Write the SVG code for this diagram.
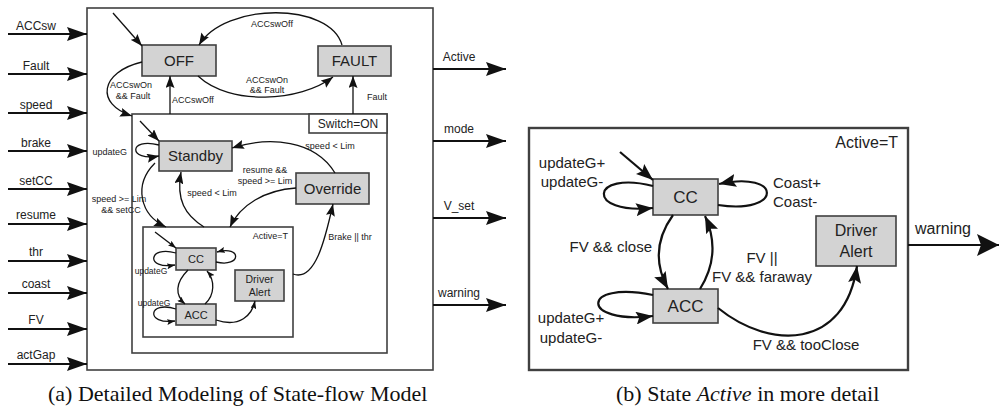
<svg xmlns="http://www.w3.org/2000/svg" width="1000" height="419" viewBox="0 0 1000 419">
<style>
.t{font-family:"Liberation Sans",Arial,sans-serif;fill:#222}
.c{text-anchor:middle}
.e{text-anchor:end}
.box{fill:#d3d3d3;stroke:#404040;stroke-width:1.6}
.frame{fill:#fff;stroke:#404040;stroke-width:1.6}
.ed{fill:none;stroke:#111;stroke-width:1.3}
.edR{fill:none;stroke:#111;stroke-width:2.2}
.io{fill:none;stroke:#111;stroke-width:1.8}
.cap{font-family:"Liberation Serif","Times New Roman",serif;font-size:22px;fill:#111}
</style>
<defs>
<marker id="aIO" viewBox="0 0 20 14" refX="20" refY="7" markerWidth="20" markerHeight="14" markerUnits="userSpaceOnUse" orient="auto"><path d="M0,0 L20,7 L0,14 L3,7 z" fill="#111"/></marker>
<marker id="aM" viewBox="0 0 12 9" refX="12" refY="4.5" markerWidth="12" markerHeight="9" markerUnits="userSpaceOnUse" orient="auto"><path d="M0,0 L12,4.5 L0,9 L2,4.5 z" fill="#111"/></marker>
<marker id="aS" viewBox="0 0 8 6" refX="8" refY="3" markerWidth="8" markerHeight="6" markerUnits="userSpaceOnUse" orient="auto"><path d="M0,0 L8,3 L0,6 L1.5,3 z" fill="#111"/></marker>
<marker id="aR" viewBox="0 0 17 13" refX="17" refY="6.5" markerWidth="17" markerHeight="13" markerUnits="userSpaceOnUse" orient="auto"><path d="M0,0 L17,6.5 L0,13 L3,6.5 z" fill="#111"/></marker>
<marker id="aW" viewBox="0 0 22 22" refX="22" refY="11" markerWidth="22" markerHeight="22" markerUnits="userSpaceOnUse" orient="auto"><path d="M0,0 L22,11 L0,22 L4,11 z" fill="#111"/></marker>
</defs>

<!-- ===== (a) left diagram ===== -->
<g id="chart">
<rect x="87" y="8" width="346" height="362" class="frame"/>
</g>
<g id="switchOn">
<rect x="132" y="114" width="255" height="239" class="frame"/>
<rect x="309" y="114" width="78" height="19" fill="#fff" stroke="#404040" stroke-width="1.6"/>
<text x="348" y="128" class="t c" font-size="12">Switch=ON</text>
</g>
<g id="activeSmall">
<rect x="143" y="227" width="150" height="110" class="frame"/>
<text x="288" y="239" class="t e" font-size="9">Active=T</text>
</g>
<g id="off"><rect x="142" y="45" width="74" height="31" class="box"/><text x="179" y="66" class="t c" font-size="15">OFF</text></g>
<g id="fault"><rect x="318" y="46" width="73" height="30" class="box"/><text x="354.5" y="66" class="t c" font-size="15">FAULT</text></g>
<g id="standby"><rect x="159" y="141" width="73" height="30" class="box"/><text x="195.5" y="161" class="t c" font-size="15">Standby</text></g>
<g id="override"><rect x="296" y="173" width="73" height="31" class="box"/><text x="332.5" y="194" class="t c" font-size="15">Override</text></g>
<g id="ccSmall"><rect x="176" y="248" width="40" height="22" class="box"/><text x="196" y="263" class="t c" font-size="11">CC</text></g>
<g id="accSmall"><rect x="176" y="304" width="40" height="21" class="box"/><text x="196" y="318.5" class="t c" font-size="11">ACC</text></g>
<g id="alertSmall"><rect x="235" y="270" width="49" height="31" class="box"/><text x="259.5" y="283" class="t c" font-size="10.5">Driver</text><text x="259.5" y="296" class="t c" font-size="10.5">Alert</text></g>

<!-- ===== (b) right diagram ===== -->
<g id="activeBig">
<rect x="529" y="128" width="379" height="242" fill="#fff" stroke="#404040" stroke-width="2.4"/>
<text x="898" y="148" class="t e" font-size="16">Active=T</text>
</g>
<g id="cc"><rect x="653" y="179" width="65" height="36" class="box"/><text x="685.5" y="203" class="t c" font-size="17">CC</text></g>
<g id="acc"><rect x="653" y="289" width="65" height="34" class="box"/><text x="685.5" y="312" class="t c" font-size="17">ACC</text></g>
<g id="alert"><rect x="816" y="216" width="80" height="50" class="box"/><text x="856" y="236" class="t c" font-size="16">Driver</text><text x="856" y="257" class="t c" font-size="16">Alert</text></g>

<g id="connectors">
<!-- inputs -->
<g class="io" marker-end="url(#aIO)">
<path d="M8,34 H87"/><path d="M8,74 H87"/><path d="M8,113 H87"/><path d="M8,151 H87"/><path d="M8,189 H87"/>
<path d="M8,224 H87"/><path d="M8,261 H87"/><path d="M8,293 H87"/><path d="M8,329 H87"/><path d="M8,364 H87"/>
</g>
<g class="t c" font-size="12">
<text x="36" y="30">ACCsw</text><text x="36" y="70">Fault</text><text x="36" y="109">speed</text><text x="36" y="147">brake</text><text x="36" y="185">setCC</text>
<text x="36" y="219">resume</text><text x="36" y="256">thr</text><text x="36" y="288">coast</text><text x="36" y="324">FV</text><text x="36" y="359">actGap</text>
</g>
<!-- outputs -->
<g class="io" marker-end="url(#aIO)">
<path d="M433,69 H506"/><path d="M433,141 H506"/><path d="M433,218 H506"/><path d="M433,305 H506"/>
</g>
<g class="t c" font-size="12">
<text x="459" y="61">Active</text><text x="459" y="133">mode</text><text x="459" y="210">V_set</text><text x="459" y="297">warning</text>
</g>

<!-- top level transitions -->
<g class="ed" marker-end="url(#aM)">
<path d="M113,13 L142,46"/>
<path d="M342,45 C330,2 225,2 199,45"/>
<path d="M198,76 C230,106 300,102 333,77"/>
<path d="M142,62 C100,72 95,104 132,116"/>
<path d="M170,114 L170,76"/>
<path d="M353,114 L353,76"/>
<path d="M140,121 L159,141"/>
<path d="M159,145 C128,137 128,162 159,156"/>
<path d="M155,163 C133,185 140,215 166,227"/>
<path d="M204,227 C185,215 176,200 181,172"/>
<path d="M296,188 C265,190 240,205 230,227"/>
<path d="M335,173 C315,140 270,136 232,148"/>
<path d="M293,274 C315,282 325,240 333,204"/>
</g>
<g class="t" font-size="9">
<text x="272" y="27" class="c">ACCswOff</text>
<text x="267" y="83" class="c">ACCswOn</text>
<text x="267" y="93" class="c">&amp;&amp; Fault</text>
<text x="131" y="88" class="c">ACCswOn</text>
<text x="133" y="99" class="c">&amp;&amp; Fault</text>
<text x="172" y="103">ACCswOff</text>
<text x="377" y="100" class="c">Fault</text>
<text x="127" y="155" class="e">updateG</text>
<text x="119" y="202" class="c">speed &gt;= Lim</text>
<text x="121" y="213" class="c">&amp;&amp; setCC</text>
<text x="212" y="196" class="c">speed &lt; Lim</text>
<text x="265" y="173" class="c">resume  &amp;&amp;</text>
<text x="265" y="184" class="c">speed &gt;= Lim</text>
<text x="330" y="149" class="c">speed &lt; Lim</text>
<text x="350" y="240" class="c">Brake || thr</text>
</g>
<!-- inner active transitions -->
<g class="ed" stroke-width="1.1" marker-end="url(#aS)">
<path d="M155,232 L176,248"/>
<path d="M176,253 C148,245 145,270 175,265"/>
<path d="M216,262 C242,268 242,245 217,252"/>
<path d="M188,270 C175,283 175,295 185,304"/>
<path d="M205,304 C215,295 215,280 207,271"/>
<path d="M176,309 C148,300 145,325 175,321"/>
<path d="M216,320 C240,328 252,315 255,301"/>
</g>
<g class="t c" font-size="8.5">
<text x="151" y="274">updateG</text>
<text x="154" y="306">updateG</text>
</g>

<!-- right diagram transitions -->
<g class="edR" marker-end="url(#aR)">
<path d="M620,152 L653,180"/>
<path d="M653,186 C590,170 585,215 653,208"/>
<path d="M718,205 C783,215 783,170 719,184"/>
<path d="M673,215 C655,240 655,265 668,289"/>
<path d="M700,289 C715,265 716,240 705,216"/>
<path d="M653,295 C580,280 580,325 653,316"/>
<path d="M718,308 C770,350 845,350 857,266"/>
</g>
<path d="M908,245 H999" class="edR" marker-end="url(#aW)"/>
<g class="t" font-size="15">
<text x="572" y="168" class="c">updateG+</text>
<text x="572" y="187" class="c">updateG-</text>
<text x="773" y="188">Coast+</text>
<text x="773" y="207">Coast-</text>
<text x="652" y="252" class="e">FV &amp;&amp; close</text>
<text x="762" y="263" class="c">FV ||</text>
<text x="762" y="282" class="c">FV &amp;&amp; faraway</text>
<text x="571" y="323" class="c">updateG+</text>
<text x="571" y="343" class="c">updateG-</text>
<text x="806" y="350" class="c">FV &amp;&amp; tooClose</text>
<text x="943" y="234" class="c" font-size="16">warning</text>
</g>
</g>

<text x="48" y="401" class="cap">(a) Detailed Modeling of State-flow Model</text>
<text x="616" y="401" class="cap">(b) State <tspan font-style="italic">Active</tspan> in more detail</text>
</svg>
